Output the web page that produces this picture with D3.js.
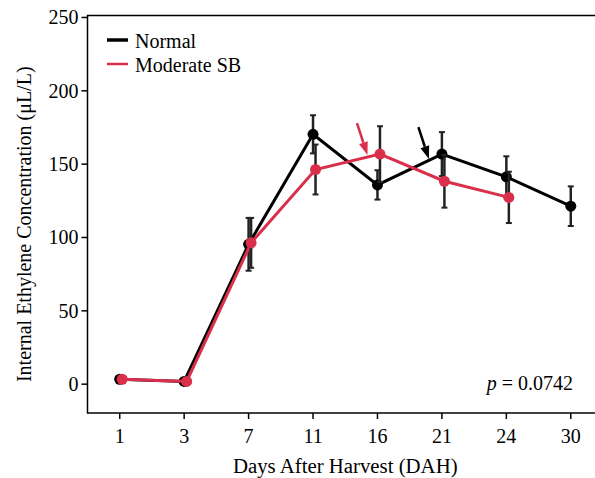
<!DOCTYPE html>
<html><head><meta charset="utf-8">
<script src="https://cdn.jsdelivr.net/npm/d3@7"></script>
<style>body{margin:0;background:#fff}svg{display:block}svg text{font-family:"Liberation Serif","Times New Roman",Times,serif !important}</style>
</head><body><svg id="c" width="595" height="478" font-family="Liberation Serif"></svg>
<script>
const days = ["1","3","7","11","16","21","24","30"];
const normalMean = [3, 1.5, 95, 170, 135.5, 156.5, 141, 121];
const normalErr  = [0, 0, 18, 13, 10, 15, 14, 13.5];
const sbMean = [3, 1.5, 96, 146, 156.5, 138, 127];
const sbErr  = [0, 0, 17, 17, 19, 18, 17.5];
const yTicks = [0, 50, 100, 150, 200, 250];
const seriesNames = ["Normal", "Moderate SB"];
const colors = ["#000000", "#d92f4b"];

const FF = '"Liberation Serif","Times New Roman",Times,serif';
const svg = d3.select("#c");
const L = 87.5, R = 603, T = 15.5, B = 413;
const x = d3.scaleBand().domain(days).range([L, R]).padding(0);
const xc = d => x(d) + x.bandwidth() / 2;
const y = d3.scaleLinear().domain([-20, 251]).range([B, T]);

svg.append("rect").attr("x", L).attr("y", T).attr("width", R - L).attr("height", B - T)
  .attr("fill", "none").attr("stroke", "#000").attr("stroke-width", 1.5);

const yAxis = svg.append("g").attr("transform", `translate(${L},0)`)
  .call(d3.axisLeft(y).tickValues(yTicks).tickSize(6).tickPadding(3));
const xAxis = svg.append("g").attr("transform", `translate(0,${B})`)
  .call(d3.axisBottom(x).tickSize(6).tickPadding(10));
[yAxis, xAxis].forEach(g => {
  g.attr("font-family", FF);
  g.select(".domain").remove();
  g.selectAll("line").attr("stroke", "#000").attr("stroke-width", 1.5);
  g.selectAll("text").attr("font-size", 20).attr("fill", "#000").attr("font-family", FF);
});
yAxis.selectAll("text").attr("dy", "0.34em");

function txt(sel) { return sel.attr("font-family", FF).attr("fill", "#000"); }

txt(svg.append("text")).attr("x", (L + R) / 2).attr("y", 473).attr("text-anchor", "middle")
  .attr("font-size", 20.8).text("Days After Harvest (DAH)");
txt(svg.append("text")).attr("transform", `translate(31,${(T + B) / 2 + 10}) rotate(-90)`)
  .attr("text-anchor", "middle").attr("font-size", 20).text("Internal Ethylene Concentration (μL/L)");

const series = [
  {name: seriesNames[0], mean: normalMean, err: normalErr, color: colors[0], dx: 0},
  {name: seriesNames[1], mean: sbMean, err: sbErr, color: colors[1], dx: 2.5}
];
series.forEach(s => {
  const pts = s.mean.map((v, i) => ({d: days[i], v, e: s.err[i]}));
  const g = svg.append("g");
  g.append("path").datum(pts)
    .attr("d", d3.line().x(p => xc(p.d) + s.dx).y(p => y(p.v)))
    .attr("fill", "none").attr("stroke", s.color).attr("stroke-width", 3);
  const eb = g.selectAll(".eb").data(pts.filter(p => p.e > 0)).join("g");
  eb.append("line").attr("x1", p => xc(p.d) + s.dx).attr("x2", p => xc(p.d) + s.dx)
    .attr("y1", p => y(p.v + p.e)).attr("y2", p => y(p.v - p.e))
    .attr("stroke", "#222").attr("stroke-width", 2.5);
  [1, -1].forEach(sg => {
    eb.append("line").attr("x1", p => xc(p.d) + s.dx - 3).attr("x2", p => xc(p.d) + s.dx + 3)
      .attr("y1", p => y(p.v + sg * p.e)).attr("y2", p => y(p.v + sg * p.e))
      .attr("stroke", "#222").attr("stroke-width", 2);
  });
  g.selectAll("circle").data(pts).join("circle")
    .attr("cx", p => xc(p.d) + s.dx).attr("cy", p => y(p.v)).attr("r", 5.5)
    .attr("fill", s.color);
});

function arrow(tx, ty, color) {
  const sx = tx - 10.5, sy = ty - 32;
  const ang = Math.atan2(ty - sy, tx - sx);
  const hl = 13, hw = 4.5;
  const bx = tx - hl * Math.cos(ang), by = ty - hl * Math.sin(ang);
  svg.append("line").attr("x1", sx).attr("y1", sy).attr("x2", bx).attr("y2", by)
    .attr("stroke", color).attr("stroke-width", 2.5);
  const px = -Math.sin(ang), py = Math.cos(ang);
  svg.append("path").attr("d", `M${tx},${ty}L${bx + px * hw},${by + py * hw}L${bx - px * hw},${by - py * hw}Z`)
    .attr("fill", color);
}
arrow(xc("16") - 10, y(sbMean[4]) + 1, colors[1]);
arrow(xc("21") - 13, y(normalMean[5]) + 5, colors[0]);

series.forEach((s, i) => {
  const ly = 40 + i * 24;
  svg.append("line").attr("x1", 107).attr("x2", 128).attr("y1", ly).attr("y2", ly)
    .attr("stroke", s.color).attr("stroke-width", i === 0 ? 3.5 : 2.5);
  txt(svg.append("text")).attr("x", 135).attr("y", ly + 8).attr("font-size", 20).text(s.name);
});

const pt = txt(svg.append("text")).attr("x", 573).attr("y", 390).attr("text-anchor", "end").attr("font-size", 20);
pt.append("tspan").attr("font-style", "italic").text("p");
pt.append("tspan").text(" = 0.0742");
</script></body></html>
